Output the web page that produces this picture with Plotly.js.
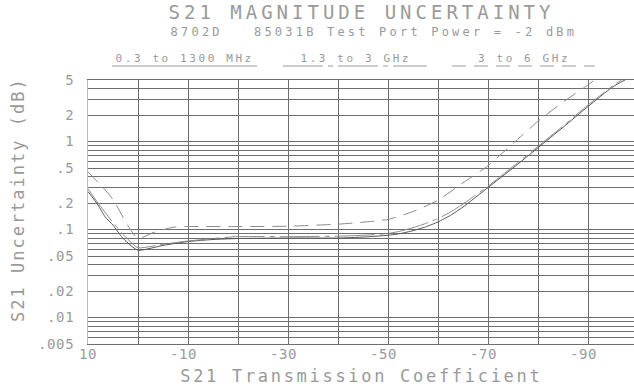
<!DOCTYPE html>
<html>
<head>
<meta charset="utf-8">
<script src="https://cdn.plot.ly/plotly-3.0.1.min.js"></script>
<style>
  html, body { margin: 0; padding: 0; background: #fff; }
  #chart { width: 634px; height: 387px; }
  .gtitle { letter-spacing: 4px; }
  .xtick text, .ytick text { letter-spacing: 0.6px; }
  g.annotation[data-index="0"] text { letter-spacing: 3.2px; }
  g.annotation[data-index="1"] text,
  g.annotation[data-index="2"] text,
  g.annotation[data-index="3"] text { letter-spacing: 2.6px; }
  g.annotation[data-index="4"] text { letter-spacing: 2.7px; }
  g.annotation[data-index="5"] text { letter-spacing: 2px; }
</style>
</head>
<body>
<div id="chart"></div>
<script>
// ---------------- data ----------------
const seriesNames = ["0.3 to 1300 MHz", "1.3 to 3 GHz", "3 to 6 GHz"];

// 0.3 to 1300 MHz (solid)
const xLow = [10, 8, 6.6, 5, 3.3, 2, 0, -5, -10, -15, -20, -30, -40, -45, -50, -52.5, -55, -57.5, -60, -62.5, -65, -70, -75, -80, -85, -90, -95, -97.4];
const yLow = [0.27, 0.19, 0.14, 0.112, 0.083, 0.07, 0.058, 0.066, 0.073, 0.077, 0.079, 0.080, 0.080, 0.082, 0.086, 0.090, 0.097, 0.107, 0.122, 0.145, 0.18, 0.30, 0.50, 0.85, 1.45, 2.5, 4.2, 5.0];

// 1.3 to 3 GHz (long dash - dot)
const xMid = [10, 8, 5, 2, 0, -5, -10, -15, -20, -30, -40, -45, -50, -52.5, -55, -57.5, -60, -62.5, -65, -70, -75, -80, -85, -90, -95, -96.7];
const yMid = [0.29, 0.2, 0.12, 0.077, 0.062, 0.068, 0.074, 0.079, 0.083, 0.083, 0.084, 0.086, 0.090, 0.096, 0.105, 0.117, 0.133, 0.158, 0.195, 0.31, 0.52, 0.88, 1.5, 2.6, 4.3, 5.0];

// 3 to 6 GHz (dashed)
const xHigh = [10, 7, 5, 2, 0, -3, -7, -10, -20, -30, -40, -45, -50, -55, -60, -65, -70, -75, -80, -85, -90, -91.3];
const yHigh = [0.45, 0.30, 0.22, 0.11, 0.079, 0.092, 0.106, 0.108, 0.108, 0.109, 0.115, 0.121, 0.13, 0.16, 0.215, 0.34, 0.53, 0.95, 1.7, 2.8, 4.4, 5.0];

// tick labels
const xTickVals = [10, -10, -30, -50, -70, -90];
const xTickText = ["10", "-10\u00a0", "-30\u00a0", "-50\u00a0", "-70\u00a0", "-90\u00a0"];
const yTickVals = [5, 2, 1, 0.5, 0.2, 0.1, 0.05, 0.02, 0.01, 0.005];
const yTickText = ["5", "2", "1", ".5", ".2", ".1", ".05", ".02", ".01", ".005"];

const titleText = "S21 MAGNITUDE UNCERTAINTY";
const subtitleText = "8702D\u00a0\u00a0\u00a085031B Test Port Power = -2 dBm";
const xTitleText = "S21 Transmission Coefficient";
const yTitleText = "S21 Uncertainty (dB)";

// ---------------- layout helpers ----------------
const W = 634, H = 387;
const M = { l: 88, r: 0, t: 80, b: 43 };
const PW = W - M.l - M.r, PH = H - M.t - M.b;
const px2x = p => (p - M.l) / PW;
const px2y = q => (H - M.b - q) / PH;

const FONT = "DejaVu Sans Mono, Liberation Mono, monospace";
const TXT = "#9a9a9a";
const GRID = "#6e6e6e";

// minor grid: every 1..9 x 10^n
const yMinor = [];
[0.001, 0.01, 0.1, 1].forEach(d => {
  for (let k = 1; k <= 9; k++) {
    const v = +(k * d).toPrecision(3);
    if (v >= 0.005 && v <= 5) yMinor.push(v);
  }
});

const lineStyles = [
  { color: "#555555", width: 1, dash: "solid", shape: "spline", smoothing: 0.5 },
  { color: "#8a8a8a", width: 1, dash: "40px,5px,5px,5px", shape: "spline", smoothing: 0.5 },
  { color: "#8a8a8a", width: 1, dash: "14px,8px", shape: "spline", smoothing: 0.5 }
];

const traces = [
  { x: xLow, y: yLow, name: seriesNames[0], type: "scatter", mode: "lines", line: lineStyles[0] },
  { x: xMid, y: yMid, name: seriesNames[1], type: "scatter", mode: "lines", line: lineStyles[1] },
  { x: xHigh, y: yHigh, name: seriesNames[2], type: "scatter", mode: "lines", line: lineStyles[2] }
];

// legend (underlined labels)
const legendX = [[112, 257], [283, 427], [452, 595]];
const legendLineY = 66, legendTextY = 58.5;

const shapes = legendX.map((r, i) => ({
  type: "line", xref: "paper", yref: "paper",
  x0: px2x(r[0]), x1: px2x(r[1]), y0: px2y(legendLineY), y1: px2y(legendLineY),
  line: { color: "#9a9a9a", width: 1, dash: lineStyles[i].dash }
}));

const annotations = [
  { text: subtitleText, x: px2x(373.5), y: px2y(32), font: { size: 12 } },
  { text: seriesNames[0], x: px2x((legendX[0][0] + legendX[0][1]) / 2), y: px2y(legendTextY), font: { size: 11 } },
  { text: seriesNames[1], x: px2x((legendX[1][0] + legendX[1][1]) / 2), y: px2y(legendTextY), font: { size: 11 } },
  { text: seriesNames[2], x: px2x((legendX[2][0] + legendX[2][1]) / 2), y: px2y(legendTextY), font: { size: 11 } },
  { text: xTitleText, x: px2x(361), y: px2y(376), font: { size: 17 } },
  { text: yTitleText, x: px2x(18), y: px2y(200), font: { size: 17 }, textangle: -90 }
].map(a => Object.assign({
  xref: "paper", yref: "paper", showarrow: false,
  xanchor: "center", yanchor: "middle"
}, a, { font: Object.assign({ family: FONT, color: TXT }, a.font) }));

const layout = {
  width: W, height: H,
  margin: M,
  paper_bgcolor: "#ffffff", plot_bgcolor: "#ffffff",
  showlegend: false,
  title: {
    text: titleText,
    font: { family: FONT, size: 19, color: TXT },
    xref: "container", yref: "container",
    x: 361.5 / W, y: 1 - 12 / H, xanchor: "center", yanchor: "middle"
  },
  xaxis: {
    range: [10, 10 - PW / 5],
    tickmode: "array", tickvals: xTickVals, ticktext: xTickText,
    ticks: "", showgrid: true, gridcolor: GRID, gridwidth: 1,
    minor: { tickmode: "linear", tick0: 0, dtick: 10, showgrid: true, gridcolor: GRID, gridwidth: 1, ticks: "" },
    zeroline: false, showline: true, linecolor: GRID, linewidth: 1, mirror: true,
    ticklabelstandoff: -3,
    tickfont: { family: FONT, size: 14, color: TXT },
    fixedrange: true
  },
  yaxis: {
    type: "log",
    range: [Math.log10(0.005), Math.log10(5)],
    tickmode: "array", tickvals: yTickVals, ticktext: yTickText,
    ticks: "", showgrid: true, gridcolor: GRID, gridwidth: 1,
    minor: { tickmode: "array", tickvals: yMinor, showgrid: true, gridcolor: GRID, gridwidth: 1, ticks: "" },
    zeroline: false, showline: true, linecolor: "#bbbbbb", linewidth: 1,
    ticklabelstandoff: 10,
    tickfont: { family: FONT, size: 14, color: TXT },
    fixedrange: true
  },
  shapes: shapes,
  annotations: annotations
};

Plotly.newPlot("chart", traces, layout, { staticPlot: true, displayModeBar: false });
</script>
</body>
</html>
